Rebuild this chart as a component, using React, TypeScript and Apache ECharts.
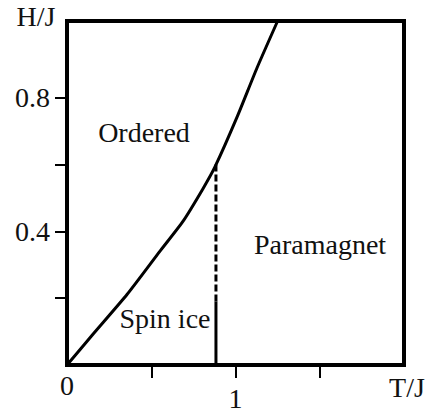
import React, { useEffect, useRef } from "react";
import * as echarts from "echarts";

// Ordered / paramagnet phase boundary H(T)
const boundaryT = [0, 0.154, 0.356, 0.552, 0.688, 0.807, 0.878, 1.009, 1.128, 1.25];
const boundaryH = [0, 0.092, 0.211, 0.341, 0.43, 0.528, 0.593, 0.742, 0.89, 1.03];

// Spin-ice crossover line at fixed T
const crossoverT = 0.884;
const crossoverSolidH = [0, 0.19];
const crossoverDashedH = [0.19, 0.6];

const xTickValues = [0.5, 1, 1.5];
const xLabelValues = [0, 1];
const yTickValues = [0.2, 0.4, 0.6, 0.8];
const yLabelValues = [0.4, 0.8];

const FONT = "Liberation Serif";
const INK = "#111";

export default function App() {
  const ref = useRef<HTMLDivElement>(null);

  useEffect(() => {
    if (!ref.current) return;
    const chart = echarts.init(ref.current, null, { renderer: "svg" });

    const text = (t: string, x: number, y: number) => ({
      type: "text",
      x,
      y,
      style: {
        text: t,
        fill: INK,
        fontSize: 28,
        fontFamily: FONT,
        align: "center",
        verticalAlign: "middle",
      },
    });

    chart.setOption({
      animation: false,
      backgroundColor: "#fff",
      textStyle: { fontFamily: FONT },
      grid: {
        left: 67,
        right: 33,
        top: 21,
        bottom: 44,
        show: true,
        borderWidth: 4,
        borderColor: "#000",
        backgroundColor: "transparent",
      },
      xAxis: {
        type: "value",
        min: 0,
        max: 2,
        axisLine: { show: false },
        splitLine: { show: false },
        axisTick: {
          show: true,
          customValues: xTickValues,
          length: 13,
          lineStyle: { color: "#000", width: 2 },
        },
        axisLabel: {
          customValues: xLabelValues,
          margin: 20,
          verticalAlign: "middle",
          fontSize: 28,
          fontFamily: FONT,
          color: INK,
          formatter: (v: number) => (v === 1 ? "{low|1}" : "{std|" + v + "}"),
          rich: {
            std: { fontSize: 28, fontFamily: FONT, color: INK },
            low: { fontSize: 28, fontFamily: FONT, color: INK, padding: [26, 0, 0, 0] },
          },
        },
      },
      yAxis: {
        type: "value",
        min: 0,
        max: 1.03,
        axisLine: { show: false },
        splitLine: { show: false },
        axisTick: {
          show: true,
          customValues: yTickValues,
          length: 12,
          lineStyle: { color: "#000", width: 2 },
        },
        axisLabel: {
          customValues: yLabelValues,
          margin: 17,
          fontSize: 28,
          fontFamily: FONT,
          color: INK,
          formatter: (v: number) => String(v),
        },
      },
      series: [
        {
          type: "line",
          data: boundaryT.map((t, i) => [t, boundaryH[i]]),
          smooth: 0.2,
          symbol: "none",
          clip: true,
          lineStyle: { color: "#000", width: 3 },
        },
        {
          type: "line",
          data: crossoverSolidH.map((h) => [crossoverT, h]),
          symbol: "none",
          lineStyle: { color: "#000", width: 3 },
        },
        {
          type: "line",
          data: crossoverDashedH.map((h) => [crossoverT, h]),
          symbol: "none",
          lineStyle: { color: "#000", width: 3, type: [7, 3] },
        },
      ],
      graphic: [
        text("H/J", 36, 16),
        text("T/J", 407, 387),
        text("Ordered", 144, 132),
        text("Paramagnet", 320, 244),
        text("Spin ice", 165, 318),
      ],
    });

    return () => chart.dispose();
  }, []);

  return <div ref={ref} style={{ width: 437, height: 412, position: "absolute", left: 0, top: 0 }} />;
}
